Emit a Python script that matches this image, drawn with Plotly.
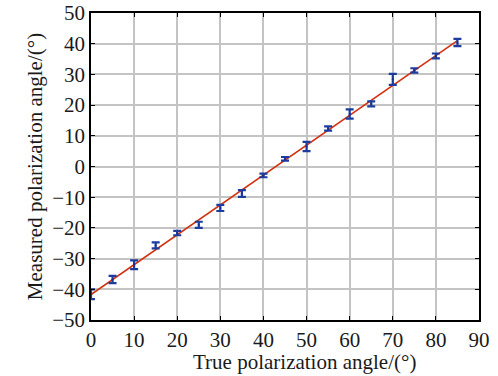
import plotly.graph_objects as go

true_angle = [0, 5, 10, 15, 20, 25, 30, 35, 40, 45, 50, 55, 60, 65, 70, 75, 80, 85]
measured = [-41.6, -36.8, -32.0, -25.7, -21.7, -19.0, -13.5, -8.8, -2.9, 2.5,
            6.5, 12.4, 17.1, 20.4, 28.4, 31.3, 36.0, 40.4]
err = [1.6, 1.2, 1.4, 1.0, 0.7, 1.0, 1.0, 1.1, 0.6, 0.6,
       1.5, 0.7, 1.5, 0.8, 1.8, 0.7, 0.8, 1.2]
fit_x = [0, 85]
fit_y = [-41.7, 41.0]

font = dict(family="Liberation Serif, Times New Roman, serif", size=21, color="#1a1a1a")

fig = go.Figure()
fig.add_trace(go.Scatter(x=fit_x, y=fit_y, mode="lines",
                         line=dict(color="#d2300f", width=1.6), showlegend=False))
fig.add_trace(go.Scatter(x=true_angle, y=measured, mode="markers",
                         marker=dict(size=2, color="#1a2f8a"),
                         error_y=dict(type="data", array=err, visible=True,
                                      color="#1c3c9e", thickness=2.2, width=4),
                         showlegend=False))

axis_common = dict(showgrid=True, gridcolor="#c4c4c4", gridwidth=1.5,
                   showline=True, linecolor="black", linewidth=1.5, mirror="ticks",
                   ticks="inside", ticklen=4, tickcolor="black", tickwidth=1.2,
                   zeroline=False, tickfont=font, title_font=font, automargin=False)

fig.update_xaxes(range=[0, 90], dtick=10, tick0=0, **axis_common)
fig.update_yaxes(range=[-50, 50], dtick=10, tick0=-50,
                 title_text="Measured polarization angle/(°)", title_standoff=4, **axis_common)

fig.add_annotation(text="True polarization angle/(°)", xref="paper", yref="paper",
                   x=0.55, y=-0.137, xanchor="center", yanchor="middle",
                   showarrow=False, font=font)

fig.update_layout(width=498, height=376,
                  margin=dict(l=91, r=19, t=13, b=56),
                  paper_bgcolor="white", plot_bgcolor="white", font=font)

fig.write_html("out.html")
